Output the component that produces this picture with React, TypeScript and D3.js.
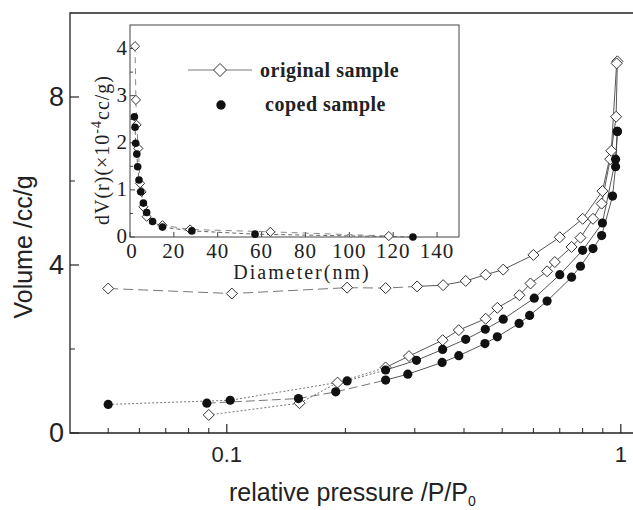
import React, { useEffect, useRef } from 'react';
import * as d3 from 'd3';

// main isotherm: original sample (diamonds) and coped sample (dots)
const origAdsP = [0.09, 0.153, 0.191, 0.253, 0.29, 0.353, 0.388, 0.454, 0.486, 0.553, 0.59, 0.65, 0.68, 0.75, 0.79, 0.85, 0.894, 0.94, 0.973, 0.98];
const origAdsV = [0.43, 0.71, 1.2, 1.56, 1.83, 2.21, 2.45, 2.72, 2.98, 3.28, 3.56, 3.85, 4.07, 4.43, 4.65, 5.1, 5.46, 6.52, 7.53, 8.85];
const origDesP = [0.05, 0.103, 0.202, 0.253, 0.304, 0.354, 0.404, 0.454, 0.503, 0.6, 0.7, 0.8, 0.898, 0.946, 0.976];
const origDesV = [3.44, 3.32, 3.46, 3.45, 3.49, 3.52, 3.62, 3.77, 3.89, 4.24, 4.66, 5.1, 5.76, 6.72, 8.8];
const copedAdsP = [0.089, 0.152, 0.189, 0.253, 0.288, 0.352, 0.388, 0.452, 0.486, 0.552, 0.587, 0.65, 0.75, 0.79, 0.85, 0.894, 0.953, 0.97, 0.98];
const copedAdsV = [0.71, 0.82, 0.98, 1.26, 1.4, 1.68, 1.84, 2.13, 2.29, 2.61, 2.8, 3.14, 3.71, 3.97, 4.39, 4.7, 5.64, 6.34, 7.18];
const copedDesP = [0.05, 0.102, 0.202, 0.253, 0.303, 0.353, 0.404, 0.453, 0.503, 0.603, 0.7, 0.8, 0.898, 0.97, 0.98];
const copedDesV = [0.68, 0.78, 1.24, 1.5, 1.73, 1.99, 2.23, 2.47, 2.71, 3.21, 3.77, 4.35, 5.0, 6.52, 7.18];

// inset: pore size distribution
const origDiam = [2.3, 2.7, 3.0, 3.8, 4.6, 5.3, 6.1, 7.6, 14.8, 27.4, 64, 118];
const origDv = [4.05, 2.91, 2.38, 1.88, 1.14, 0.96, 0.64, 0.43, 0.25, 0.16, 0.11, 0.02];
const copedDiam = [2.0, 2.3, 2.6, 3.1, 3.5, 4.1, 4.9, 6.1, 7.6, 10.3, 14.8, 28.2, 57, 129];
const copedDv = [2.55, 2.33, 1.99, 1.76, 1.49, 1.21, 0.96, 0.72, 0.52, 0.33, 0.21, 0.13, 0.06, 0.0];

const xMajor = [0.1, 1];
const xMinor = [0.05, 0.06, 0.07, 0.08, 0.09, 0.2, 0.3, 0.4, 0.5, 0.6, 0.7, 0.8, 0.9];
const yMajor = [0, 4, 8];
const yMinor = [2, 6];
const insetXTicks = [0, 20, 40, 60, 80, 100, 120, 140];
const insetYTicks = [0, 1, 2, 3, 4];
const insetYMinor = [0.5, 1.5, 2.5, 3.5];

const SANS = 'Liberation Sans, Arial, sans-serif';
const SERIF = 'Liberation Serif, Times New Roman, serif';

const zip = (a: number[], b: number[]) => a.map((v, i) => [v, b[i]] as [number, number]);

const App = () => {
  const svgRef = useRef<SVGSVGElement>(null);

  useEffect(() => {
    const svg = d3.select(svgRef.current);
    svg.selectAll('*').remove();

    const x = d3.scaleLog().domain([0.04, 1.2]).range([70, 652]);
    const y = d3.scaleLinear().domain([0, 10]).range([433, 13]);

    const diamond = (g: any, cx: number, cy: number, h: number) => {
      g.append('path')
        .attr('d', `M${cx},${cy - h}L${cx + h},${cy}L${cx},${cy + h}L${cx - h},${cy}Z`)
        .attr('fill', 'white')
        .attr('stroke', '#333')
        .attr('stroke-width', 1);
    };

    // frame
    svg.append('path')
      .attr('d', `M633,13H70V433H633`)
      .attr('fill', 'none')
      .attr('stroke', '#222')
      .attr('stroke-width', 1.3);

    // x ticks (inward)
    xMajor.forEach(t => {
      svg.append('line').attr('x1', x(t)).attr('x2', x(t)).attr('y1', 433).attr('y2', 424)
        .attr('stroke', '#222').attr('stroke-width', 1.2);
      svg.append('text').attr('x', x(t)).attr('y', 462).attr('text-anchor', 'middle')
        .style('font-family', SANS).style('font-size', '22px').attr('fill', '#222')
        .text(t === 1 ? '1' : '0.1');
    });
    xMinor.forEach(t => {
      svg.append('line').attr('x1', x(t)).attr('x2', x(t)).attr('y1', 433).attr('y2', 428)
        .attr('stroke', '#222').attr('stroke-width', 1);
    });

    // y ticks (inward)
    yMajor.forEach(t => {
      svg.append('line').attr('x1', 70).attr('x2', 79).attr('y1', y(t)).attr('y2', y(t))
        .attr('stroke', '#222').attr('stroke-width', 1.2);
      svg.append('text').attr('x', 64).attr('y', y(t) + 9).attr('text-anchor', 'end')
        .style('font-family', SANS).style('font-size', '27px').attr('fill', '#222')
        .text(t);
    });
    yMinor.forEach(t => {
      svg.append('line').attr('x1', 70).attr('x2', 75).attr('y1', y(t)).attr('y2', y(t))
        .attr('stroke', '#222').attr('stroke-width', 1);
    });

    // axis titles
    const xt = svg.append('text').attr('x', 229).attr('y', 501)
      .style('font-family', SANS).style('font-size', '25px').attr('fill', '#222');
    xt.append('tspan').text('relative pressure /P/P');
    xt.append('tspan').attr('dy', 5).style('font-size', '14px').text('0');

    svg.append('text')
      .attr('transform', 'translate(32,247) rotate(-90)')
      .attr('text-anchor', 'middle')
      .style('font-family', SANS).style('font-size', '25px').attr('fill', '#222')
      .text('Volume /cc/g');

    // isotherm lines: dashed at low pressure, solid afterwards
    const line = d3.line<[number, number]>().x(d => x(d[0])).y(d => y(d[1]));
    const drawSeries = (pts: [number, number][], split: number, dash: string) => {
      const low = pts.filter(d => d[0] <= split);
      const high = pts.filter(d => d[0] >= split);
      svg.append('path').attr('d', line(low)).attr('fill', 'none')
        .attr('stroke', '#777').attr('stroke-width', 1).attr('stroke-dasharray', dash);
      svg.append('path').attr('d', line(high)).attr('fill', 'none')
        .attr('stroke', '#444').attr('stroke-width', 0.9);
    };
    const oa = zip(origAdsP, origAdsV);
    const od = zip(origDesP, origDesV);
    const ca = zip(copedAdsP, copedAdsV);
    const cd = zip(copedDesP, copedDesV);
    drawSeries(od, 0.304, '10,5');
    drawSeries(oa, 0.253, '2,2');
    drawSeries(ca, 0.253, '9,4');
    drawSeries(cd, 0.253, '2,2');

    const mg = svg.append('g');
    [...oa, ...od].forEach(d => diamond(mg, x(d[0]), y(d[1]), 5.5));
    [...ca, ...cd].forEach(d => {
      mg.append('circle').attr('cx', x(d[0])).attr('cy', y(d[1])).attr('r', 4.6).attr('fill', '#111');
    });

    // ---- inset ----
    const ix = d3.scaleLinear().domain([0, 150]).range([130, 459]);
    const iy = d3.scaleLinear().domain([0, 4.5]).range([237, 25]);
    const ig = svg.append('g');
    ig.append('rect').attr('x', 130).attr('y', 25).attr('width', 329).attr('height', 212)
      .attr('fill', 'white').attr('stroke', '#444').attr('stroke-width', 1);

    insetXTicks.forEach(t => {
      ig.append('line').attr('x1', ix(t)).attr('x2', ix(t)).attr('y1', 237).attr('y2', 232)
        .attr('stroke', '#444');
      ig.append('text').attr('x', ix(t) + (t === 0 ? 2 : 0)).attr('y', 258).attr('text-anchor', 'middle')
        .style('font-family', SERIF).style('font-size', '21px').style('letter-spacing', '1px')
        .attr('fill', '#222').text(t);
    });
    insetYTicks.forEach(t => {
      ig.append('line').attr('x1', 130).attr('x2', 135).attr('y1', iy(t)).attr('y2', iy(t))
        .attr('stroke', '#444');
      ig.append('text').attr('x', 127).attr('y', iy(t) + 6).attr('text-anchor', 'end')
        .style('font-family', SERIF).style('font-size', '21px').attr('fill', '#222').text(t);
    });
    insetYMinor.forEach(t => {
      ig.append('line').attr('x1', 130).attr('x2', 133).attr('y1', iy(t)).attr('y2', iy(t))
        .attr('stroke', '#444');
    });

    ig.append('text').attr('x', 302).attr('y', 279).attr('text-anchor', 'middle')
      .style('font-family', SERIF).style('font-size', '20px').style('letter-spacing', '2px')
      .attr('fill', '#222').text('Diameter(nm)');

    const yl = ig.append('text')
      .attr('transform', 'translate(109,150) rotate(-90)')
      .attr('text-anchor', 'middle')
      .style('font-family', SERIF).style('font-size', '20px').style('letter-spacing', '1px')
      .attr('fill', '#222');
    yl.append('tspan').text('dV(r)(×10');
    yl.append('tspan').attr('dy', -8).style('font-size', '14px').text('-4');
    yl.append('tspan').attr('dy', 8).text('cc/g)');

    const iline = d3.line<[number, number]>().x(d => ix(d[0])).y(d => iy(d[1]));
    const io = zip(origDiam, origDv);
    const ic = zip(copedDiam, copedDv);
    ig.append('path').attr('d', iline(io)).attr('fill', 'none')
      .attr('stroke', '#888').attr('stroke-width', 1).attr('stroke-dasharray', '6,5');
    ig.append('path').attr('d', iline(ic)).attr('fill', 'none')
      .attr('stroke', '#666').attr('stroke-width', 1).attr('stroke-dasharray', '4,3');
    io.forEach(d => diamond(ig, ix(d[0]), iy(d[1]), 4.6));
    ic.forEach(d => {
      ig.append('circle').attr('cx', ix(d[0])).attr('cy', iy(d[1])).attr('r', 3.8).attr('fill', '#111');
    });

    // legend
    ig.append('line').attr('x1', 188).attr('x2', 252).attr('y1', 70).attr('y2', 70)
      .attr('stroke', '#777').attr('stroke-width', 1);
    diamond(ig, 220, 70, 6.5);
    ig.append('text').attr('x', 260).attr('y', 77)
      .style('font-family', SERIF).style('font-size', '20px').style('font-weight', 'bold')
      .style('letter-spacing', '0.5px').attr('fill', '#222').text('original sample');
    ig.append('circle').attr('cx', 221).attr('cy', 105).attr('r', 4.7).attr('fill', '#111');
    ig.append('text').attr('x', 265).attr('y', 111)
      .style('font-family', SERIF).style('font-size', '20px').style('font-weight', 'bold')
      .style('letter-spacing', '0.5px').attr('fill', '#222').text('coped sample');
  }, []);

  return (
    <svg
      ref={svgRef}
      width={633}
      height={510}
      style={{ position: 'absolute', left: 0, top: 0, background: 'white' }}
    />
  );
};

export default App;
